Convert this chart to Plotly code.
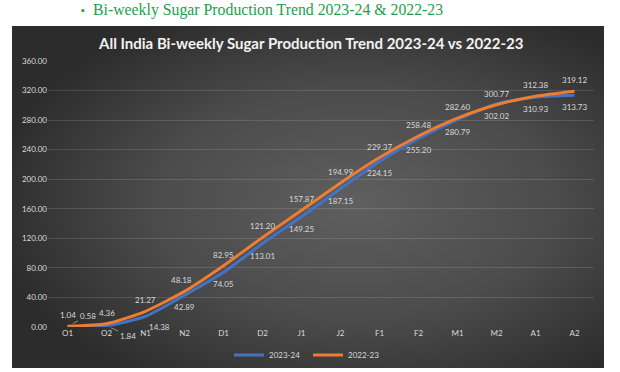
import base64
import plotly.graph_objects as go

categories = ["O1", "O2", "N1", "N2", "D1", "D2", "J1", "J2", "F1", "F2", "M1", "M2", "A1", "A2"]
prod_2023_24 = [0.58, 1.84, 14.38, 42.89, 74.05, 113.01, 149.25, 187.15, 224.15, 255.20, 280.79, 302.02, 310.93, 313.73]
prod_2022_23 = [1.04, 4.36, 21.27, 48.18, 82.95, 121.20, 157.87, 194.99, 229.37, 258.48, 282.60, 300.77, 312.38, 319.12]
y_ticks = [0, 40, 80, 120, 160, 200, 240, 280, 320, 360]

BLUE = "#4472C4"
ORANGE = "#ED7D31"
LABEL = "#d9d9d9"
FONT = "Lato, 'Open Sans', sans-serif"
LSIZE = 8

# page body margin is removed in the written page (post_script), so the figure fills the window
W, H = 620, 372
# plot area in window px: x 48..594, y 61..327
L, R, T, B = 48, W - 594, 61, H - 327
pw, ph = W - L - R, H - T - B

def px_x(p):
    return (p - L) / pw

def px_y(p):
    return (H - B - p) / ph

svg = """<svg xmlns='http://www.w3.org/2000/svg' width='592' height='342' preserveAspectRatio='none'>
<defs><radialGradient id='g' cx='58%' cy='52%' r='62%'>
<stop offset='0%' stop-color='#5f5f5f'/>
<stop offset='55%' stop-color='#4b4b4b'/>
<stop offset='100%' stop-color='#2c2c2c'/>
</radialGradient></defs>
<rect width='592' height='342' fill='url(#g)'/>
</svg>"""
svg_uri = "data:image/svg+xml;base64," + base64.b64encode(svg.encode()).decode()

fig = go.Figure()

fig.add_trace(go.Scatter(
    x=categories, y=prod_2023_24, name="2023-24", mode="lines",
    line=dict(color=BLUE, width=3, shape="spline", smoothing=0.6),
    cliponaxis=False,
))
fig.add_trace(go.Scatter(
    x=categories, y=prod_2022_23, name="2022-23", mode="lines",
    line=dict(color=ORANGE, width=3, shape="spline", smoothing=0.6),
    cliponaxis=False,
))

lab_font = dict(color=LABEL, size=LSIZE, family=FONT)

# data labels: 2022-23 above, 2023-24 below
for i, (c, v) in enumerate(zip(categories, prod_2022_23)):
    fig.add_annotation(x=c, y=v, text=f"{v:.2f}", showarrow=False,
                       xshift=-3 if i == 3 else 0, yshift=11, font=lab_font)
for i, (c, v) in enumerate(zip(categories, prod_2023_24)):
    if i == 0:
        fig.add_annotation(x=c, y=v, text=f"{v:.2f}", showarrow=True, arrowhead=0,
                           arrowwidth=0.8, arrowcolor="#a6a6a6", ax=20, ay=-11,
                           standoff=6, font=lab_font)
    elif i == 1:
        fig.add_annotation(x=c, y=v, text=f"{v:.2f}", showarrow=True, arrowhead=0,
                           arrowwidth=0.8, arrowcolor="#a6a6a6", ax=21, ay=10,
                           standoff=5, font=lab_font)
    elif i == 2:
        fig.add_annotation(x=c, y=v, text=f"{v:.2f}", showarrow=False,
                           xshift=14, yshift=-11, font=lab_font)
    else:
        fig.add_annotation(x=c, y=v, text=f"{v:.2f}", showarrow=False,
                           yshift=-12, font=lab_font)

# chart title
fig.add_annotation(xref="paper", yref="paper", x=px_x(311), y=px_y(43),
                   text="<b>All India Bi-weekly Sugar Production Trend 2023-24 vs 2022-23</b>",
                   showarrow=False, xanchor="center", yanchor="middle",
                   font=dict(color="#f2f2f2", size=15, family=FONT))

# document heading above chart
fig.add_annotation(xref="paper", yref="paper", x=px_x(79), y=px_y(10),
                   text="▪", showarrow=False, xanchor="left", yanchor="middle",
                   font=dict(color="#1e9e4a", size=11, family="Liberation Serif"))
fig.add_annotation(xref="paper", yref="paper", x=px_x(91), y=px_y(10),
                   text="Bi-weekly Sugar Production Trend 2023-24 &amp; 2022-23",
                   showarrow=False, xanchor="left", yanchor="middle",
                   font=dict(color="#1e9e4a", size=15.8, family="Liberation Serif"))

fig.add_layout_image(dict(
    source=svg_uri, xref="paper", yref="paper",
    x=px_x(12), y=px_y(26), sizex=px_x(604) - px_x(12), sizey=px_y(26) - px_y(368),
    xanchor="left", yanchor="top", sizing="stretch", layer="below",
))

fig.update_layout(
    width=W, height=H,
    margin=dict(l=L, r=R, t=T, b=B, autoexpand=False),
    paper_bgcolor="white", plot_bgcolor="rgba(0,0,0,0)",
    showlegend=True,
    legend=dict(orientation="h", xref="container", yref="container",
                x=308 / W, y=1 - 355 / H, xanchor="center", yanchor="middle",
                font=dict(color=LABEL, size=LSIZE, family=FONT), bgcolor="rgba(0,0,0,0)",
                itemwidth=30, entrywidth=34, tracegroupgap=0),
    xaxis=dict(type="category", range=[-0.5, len(categories) - 0.5], showgrid=False,
               zeroline=False, showline=False, ticks="", automargin=False,
               tickfont=dict(color=LABEL, size=LSIZE, family=FONT)),
    yaxis=dict(range=[0, 360], tickvals=y_ticks, tickformat=".2f", automargin=False,
               showgrid=True, gridcolor="rgba(255,255,255,0.13)", gridwidth=1,
               zeroline=False, showline=False, ticks="",
               tickfont=dict(color=LABEL, size=LSIZE, family=FONT)),
)

fig.write_html("out.html", config={"displayModeBar": False},
               post_script="document.body.style.margin='0';")
